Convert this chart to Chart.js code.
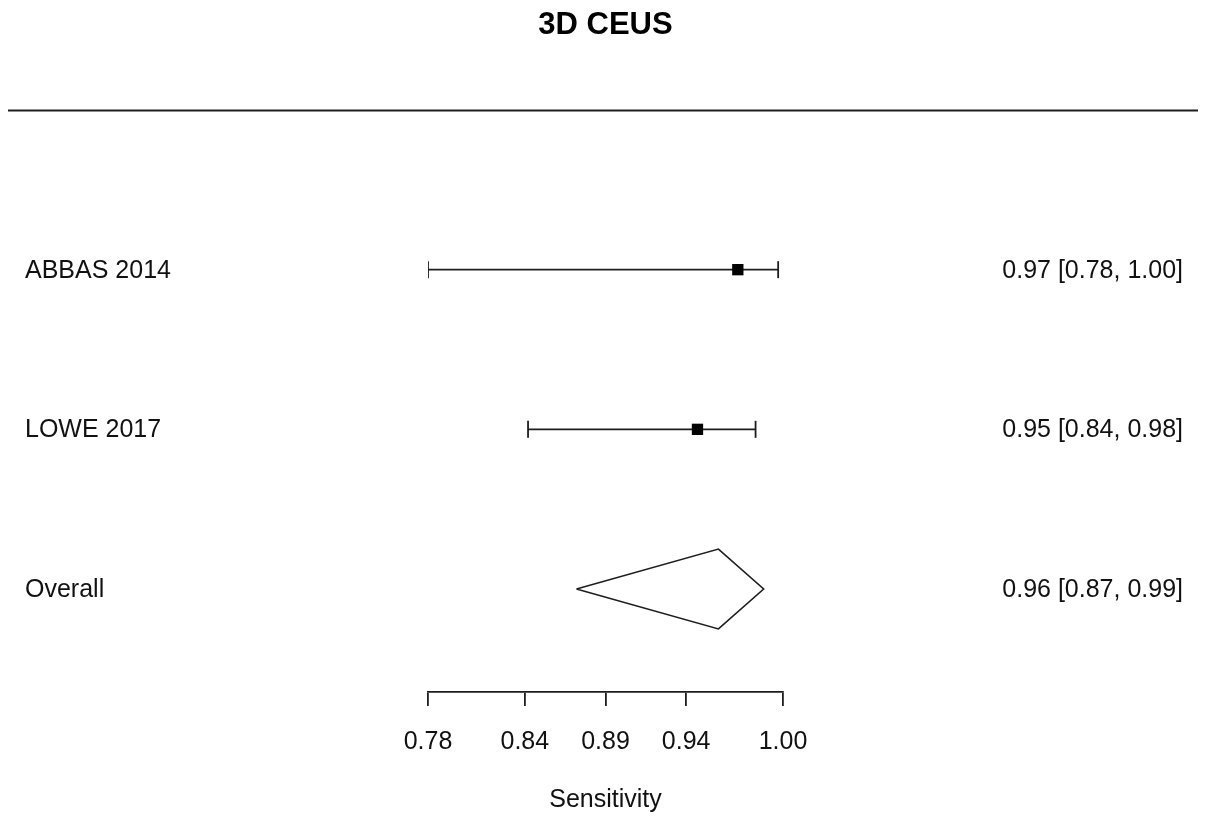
<!DOCTYPE html>
<html>
<head>
<meta charset="utf-8">
<script src="https://cdn.jsdelivr.net/npm/chart.js@4.4.1/dist/chart.umd.min.js"></script>
<style>
  html, body { margin: 0; padding: 0; background: #ffffff; }
  #wrap { width: 1208px; height: 816px; }
</style>
</head>
<body>
<div id="wrap"><canvas id="c" width="1208" height="816"></canvas></div>
<script>
// ---- data ----
const chartTitle = '3D CEUS';
const axisTitle = 'Sensitivity';
const studies = ['ABBAS 2014', 'LOWE 2017'];
const studyEst = [0.972, 0.947];
const studyLower = [0.780, 0.842];
const studyUpper = [0.997, 0.983];
const overallLabel = 'Overall';
const overallEst = [0.960];
const overallLower = [0.872];
const overallUpper = [0.988];
const xTicks = [0.78, 0.84, 0.89, 0.94, 1.00];

// row positions (top to bottom)
const studyRows = [3, 2];
const overallRow = 1;
const headerRow = 4;
const diamondHalf = 0.25;

const FONT = '"Liberation Sans", Arial, sans-serif';
const INK = '#1e1e1e';

const fmt = v => v.toFixed(2);
const ciText = (e, l, u) => fmt(e) + ' [' + fmt(l) + ', ' + fmt(u) + ']';

const datasets = [];
// squares (first so drawn on top)
datasets.push({
  data: studies.map((s, i) => ({ x: studyEst[i], y: studyRows[i] })),
  showLine: false,
  pointStyle: 'rect',
  pointRadius: 8,
  pointHoverRadius: 8,
  backgroundColor: '#000000',
  borderColor: '#000000',
  borderWidth: 0
});
// CI lines with caps
studies.forEach((s, i) => {
  datasets.push({
    data: [{ x: studyLower[i], y: studyRows[i] }, { x: studyUpper[i], y: studyRows[i] }],
    showLine: true,
    borderColor: INK,
    borderWidth: 1.8,
    pointStyle: 'line',
    pointRotation: 90,
    pointRadius: 8.5,
    pointHoverRadius: 8.5,
    pointBorderColor: INK,
    pointBorderWidth: 1.8
  });
});
// overall diamond
datasets.push({
  data: [
    { x: overallLower[0], y: overallRow },
    { x: overallEst[0], y: overallRow + diamondHalf },
    { x: overallUpper[0], y: overallRow },
    { x: overallEst[0], y: overallRow - diamondHalf },
    { x: overallLower[0], y: overallRow }
  ],
  showLine: true,
  fill: false,
  tension: 0,
  borderColor: INK,
  borderWidth: 1.6,
  pointRadius: 0,
  pointHoverRadius: 0
});

const forestText = {
  id: 'forestText',
  afterDraw(chart) {
    const ctx = chart.ctx;
    const ys = chart.scales.y;
    ctx.save();
    // header separator line
    const yh = Math.round(ys.getPixelForValue(headerRow)) + 0.5;
    ctx.strokeStyle = INK;
    ctx.lineWidth = 1.8;
    ctx.beginPath();
    ctx.moveTo(8, yh);
    ctx.lineTo(1198, yh);
    ctx.stroke();
    // labels
    ctx.font = '25px ' + FONT;
    ctx.fillStyle = '#111111';
    ctx.textBaseline = 'middle';
    const rows = studyRows.concat([overallRow]);
    const names = studies.concat([overallLabel]);
    const texts = studies.map((s, i) => ciText(studyEst[i], studyLower[i], studyUpper[i]))
      .concat([ciText(overallEst[0], overallLower[0], overallUpper[0])]);
    rows.forEach((r, i) => {
      const y = ys.getPixelForValue(r) + 1;
      ctx.textAlign = 'left';
      ctx.fillText(names[i], 25, y);
      ctx.textAlign = 'right';
      ctx.fillText(texts[i], 1183, y);
    });
    ctx.restore();
  }
};

new Chart(document.getElementById('c'), {
  type: 'scatter',
  data: { datasets },
  plugins: [forestText],
  options: {
    responsive: false,
    devicePixelRatio: 1,
    animation: false,
    layout: { padding: { left: 428, right: 425, top: 0, bottom: 0 } },
    plugins: {
      legend: { display: false },
      tooltip: { enabled: false },
      title: {
        display: true,
        text: chartTitle,
        color: '#000000',
        font: { family: FONT, size: 31, weight: 'bold' },
        padding: { top: 7, bottom: 65.8 }
      }
    },
    scales: {
      x: {
        type: 'linear',
        position: 'bottom',
        min: 0.78,
        max: 1.00,
        afterBuildTicks: (scale) => { scale.ticks = xTicks.map(v => ({ value: v })); },
        border: { display: true, color: INK, width: 1.8 },
        grid: { display: true, drawOnChartArea: false, drawTicks: true, tickLength: 14, color: INK, lineWidth: 1.8 },
        ticks: {
          color: '#111111',
          font: { family: FONT, size: 25 },
          padding: 21,
          autoSkip: false,
          maxRotation: 0,
          callback: (v) => fmt(v)
        },
        title: {
          display: true,
          text: axisTitle,
          color: '#111111',
          font: { family: FONT, size: 25 },
          padding: { top: 7, bottom: 1 }
        }
      },
      y: {
        type: 'linear',
        display: false,
        min: 0.355,
        max: 4
      }
    }
  }
});
</script>
</body>
</html>
